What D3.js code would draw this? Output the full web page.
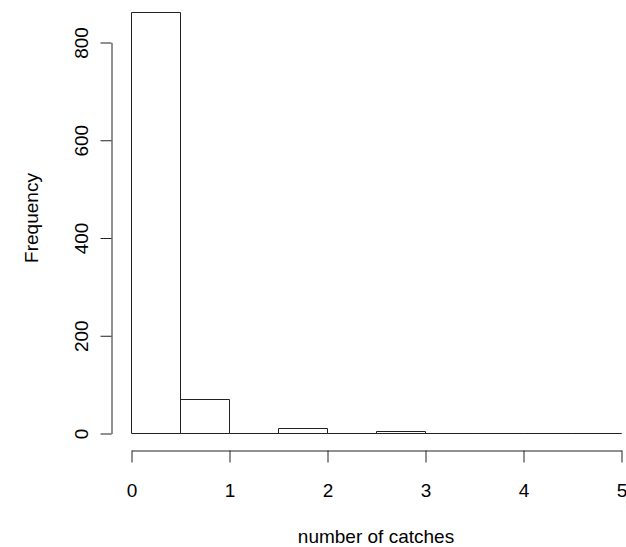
<!DOCTYPE html>
<html><head><meta charset="utf-8">
<script src="https://cdn.jsdelivr.net/npm/d3@7"></script>
<style>body{margin:0;background:#fff}svg{display:block}text{font-family:"Liberation Sans",Arial,sans-serif;fill:#000}</style>
</head><body>
<script>
const binStarts = [0, 0.5, 1, 1.5, 2, 2.5, 3, 3.5, 4, 4.5];
const binWidth = 0.5;
const counts = [861, 70, 0, 10, 0, 5, 0, 0, 0, 0];
const xTicks = [0, 1, 2, 3, 4, 5];
const yTicks = [0, 200, 400, 600, 800];
const xTitle = "number of catches";
const yTitle = "Frequency";

const W = 626, H = 547;
const svg = d3.select("body").append("svg").attr("width", W).attr("height", H);
const x = d3.scaleLinear().domain([0, 5]).range([131, 621]);
const y = d3.scaleLinear().domain([0, 800]).range([433, 42]);
const fs = 19;

// bars (drawn as closed paths so zero-height bins still show a baseline)
svg.append("g").selectAll("path").data(binStarts).join("path")
  .attr("d", (d, i) => {
    const x0 = Math.round(x(d)) + 0.5, x1 = Math.round(x(d + binWidth)) + 0.5;
    const y0 = Math.round(y(0)) + 0.5, y1 = Math.round(y(counts[i])) + 0.5;
    return `M${x0},${y0}L${x0},${y1}L${x1},${y1}L${x1},${y0}Z`;
  })
  .attr("fill", "none").attr("stroke", "#222").attr("stroke-width", 1);

// x axis
const xAxis = d3.axisBottom(x).tickValues(xTicks).tickFormat(d3.format("d")).tickSize(12).tickSizeOuter(0);
const gx = svg.append("g").attr("transform", "translate(0.5,450.5)").call(xAxis);
gx.select(".domain").attr("stroke", "#222");
gx.selectAll(".tick line").attr("stroke", "#222");
gx.selectAll(".tick text").attr("font-size", fs).attr("y", 0).attr("dy", 0)
  .attr("transform", "translate(0,46)").attr("fill", "#000");

// y axis
const yAxis = d3.axisLeft(y).tickValues(yTicks).tickFormat(d3.format("d")).tickSize(11).tickSizeOuter(0);
const gy = svg.append("g").attr("transform", "translate(111.5,0.5)").call(yAxis);
gy.select(".domain").attr("stroke", "#222");
gy.selectAll(".tick line").attr("stroke", "#222");
gy.selectAll(".tick text").attr("font-size", fs).attr("x", 0).attr("dy", 0)
  .attr("text-anchor", "middle")
  .attr("transform", "translate(-24,0) rotate(-90)").attr("fill", "#000");

// titles
svg.append("text").attr("x", (x(0) + x(5)) / 2).attr("y", 543)
  .attr("text-anchor", "middle").attr("font-size", fs).text(xTitle);
svg.append("text").attr("transform", "translate(38,218) rotate(-90)")
  .attr("text-anchor", "middle").attr("font-size", fs).text(yTitle);
</script>
</body></html>
